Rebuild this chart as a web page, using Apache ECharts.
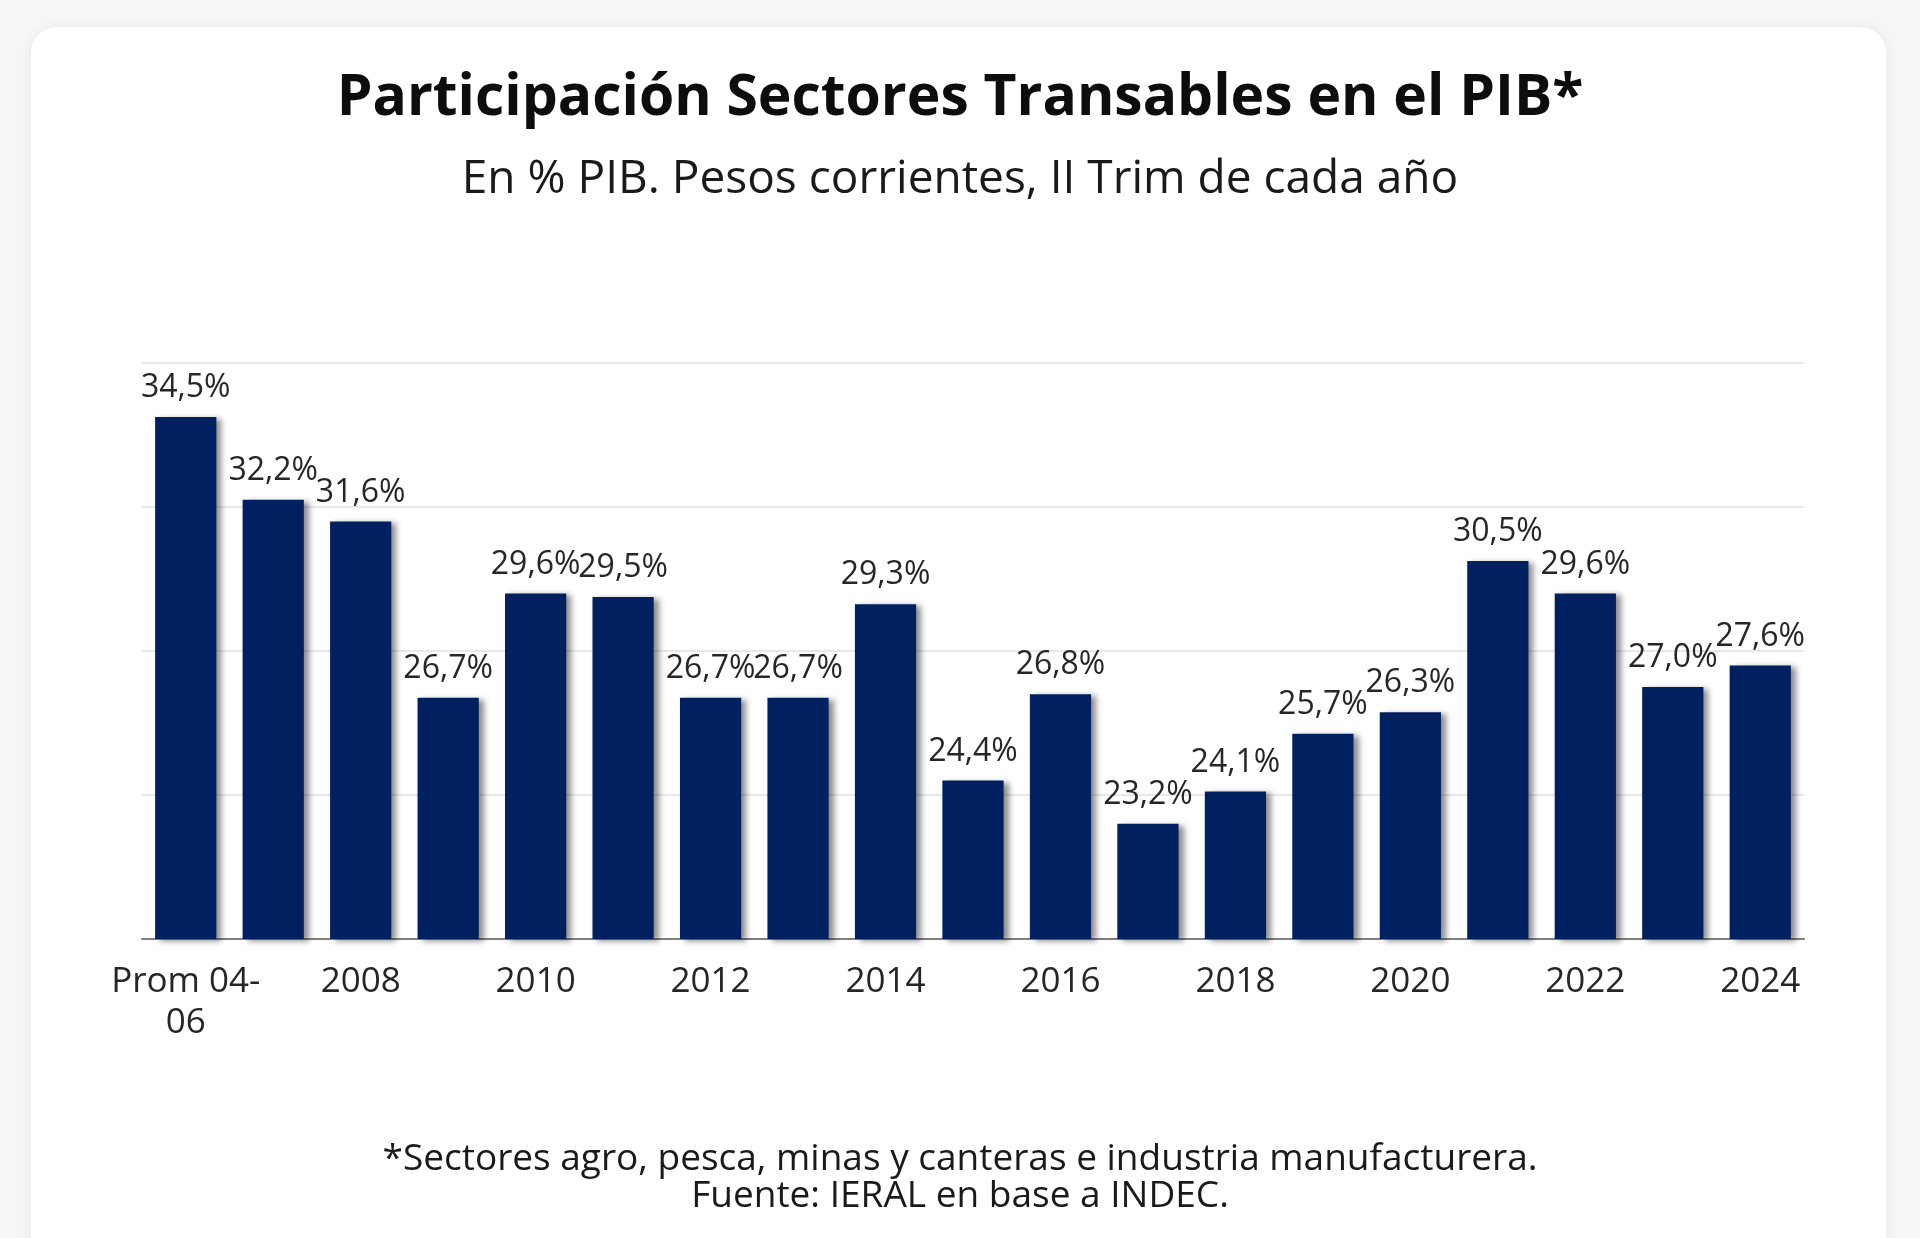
<!DOCTYPE html>
<html>
<head>
<meta charset="utf-8">
<script src="https://cdn.jsdelivr.net/npm/echarts@6/dist/echarts.min.js"></script>
<style>
  html, body { margin: 0; padding: 0; width: 1920px; height: 1238px; background: #f6f6f6; overflow: hidden; }
  #card { position: absolute; left: 31px; top: 27px; width: 1855px; height: 1260px; background: #ffffff; border-radius: 26px; box-shadow: 0 0 14px rgba(0,0,0,0.06); }
  #chart { position: absolute; left: 0; top: 0; width: 1920px; height: 1238px; }
</style>
</head>
<body>
<div id="card"></div>
<div id="chart"></div>
<script>
const categories = ['Prom 04-\n06', '2007', '2008', '2009', '2010', '2011', '2012', '2013', '2014', '2015', '2016', '2017', '2018', '2019', '2020', '2021', '2022', '2023', '2024'];
const values = [34.5, 32.2, 31.6, 26.7, 29.6, 29.5, 26.7, 26.7, 29.3, 24.4, 26.8, 23.2, 24.1, 25.7, 26.3, 30.5, 29.6, 27.0, 27.6];
const titleText = 'Participación Sectores Transables en el PIB*';
const subtitleText = 'En % PIB. Pesos corrientes, II Trim de cada año';
const footerLine1 = '*Sectores agro, pesca, minas y canteras e industria manufacturera.';
const footerLine2 = 'Fuente: IERAL en base a INDEC.';

const FONT = '"Open Sans", sans-serif';
const chart = echarts.init(document.getElementById('chart'), null, { renderer: 'canvas' });
chart.setOption({
  backgroundColor: 'transparent',
  animation: false,
  title: [
    { text: titleText, left: 'center', top: 65, textStyle: { fontFamily: FONT, fontSize: 57, fontWeight: 'bold', color: '#0d0d0d' } },
    { text: subtitleText, left: 'center', top: 152, textStyle: { fontFamily: FONT, fontSize: 46, fontWeight: 'normal', color: '#1a1a1a' } },
    { text: footerLine1, left: 'center', top: 1136, textStyle: { fontFamily: FONT, fontSize: 37, fontWeight: 'normal', color: '#1a1a1a' } },
    { text: footerLine2, left: 'center', top: 1173, textStyle: { fontFamily: FONT, fontSize: 37, fontWeight: 'normal', color: '#1a1a1a' } }
  ],
  grid: { left: 142, right: 116, top: 363, bottom: 299, containLabel: false },
  xAxis: {
    type: 'category',
    data: categories,
    axisLine: { show: true, lineStyle: { color: '#7f7f7f', width: 2 } },
    axisTick: { show: false },
    axisLabel: { interval: 1, margin: 23, fontFamily: FONT, fontSize: 35, color: '#262626', lineHeight: 41 }
  },
  yAxis: {
    type: 'value',
    min: 20, max: 36, interval: 4,
    axisLabel: { show: false },
    axisLine: { show: false },
    axisTick: { show: false },
    splitLine: { show: true, lineStyle: { color: '#e8e8e8', width: 2 } }
  },
  series: [{
    type: 'bar',
    data: values,
    barCategoryGap: '30%',
    itemStyle: { color: '#002060', shadowColor: 'rgba(0,0,0,0.45)', shadowBlur: 6, shadowOffsetX: 5, shadowOffsetY: 2 },
    label: {
      show: true, position: 'top', distance: 13,
      fontFamily: FONT, fontSize: 32, color: '#262626',
      formatter: p => p.value.toFixed(1).replace('.', ',') + '%'
    }
  }]
});
</script>
</body>
</html>
